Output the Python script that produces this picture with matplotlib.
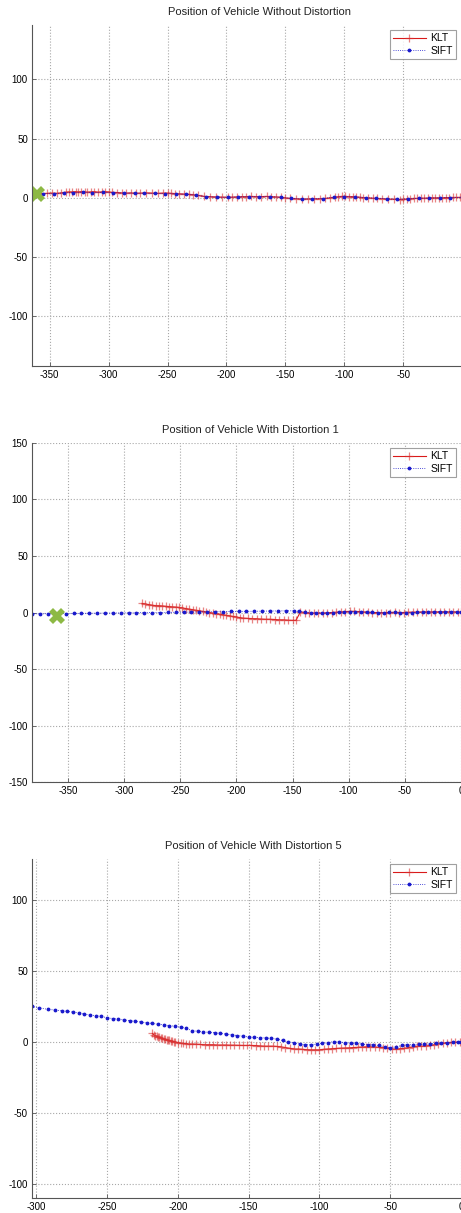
import matplotlib
matplotlib.use('Agg')
import matplotlib.pyplot as plt

plt.rcParams['font.family'] = ['Liberation Sans', 'DejaVu Sans']
plt.rcParams['axes.unicode_minus'] = False

# --- panel 1: without distortion ---
klt1_x = [-358, -352, -348, -344, -340, -336, -334, -331, -328, -326, -323, -320, -318, -315, -312,
          -309, -306, -303, -300, -297, -293, -289, -285, -281, -277, -273, -268, -263, -258, -254,
          -250, -247, -244, -240, -236, -232, -228, -224, -219, -214, -209, -204, -199, -195, -191,
          -187, -183, -179, -175, -171, -166, -162, -158, -154, -150, -146, -141, -136, -131, -126,
          -121, -116, -112, -108, -105, -102, -99, -96, -93, -90, -87, -84, -80, -76, -72,
          -68, -63, -58, -53, -50, -47, -44, -41, -38, -35, -32, -29, -26, -23, -20,
          -17, -14, -11, -8, -5, -2, 0]
klt1_y = [3.5, 3.8, 4.0, 3.8, 4.2, 4.8, 5.0, 5.0, 5.2, 5.0, 5.2, 5.0, 4.8, 5.0, 5.2,
          4.8, 5.0, 5.2, 5.0, 4.6, 4.5, 4.2, 4.0, 4.2, 3.8, 4.0, 4.2, 4.0, 3.8, 4.0,
          4.0, 3.8, 3.6, 3.4, 3.2, 3.0, 2.6, 2.0, 1.2, 1.0, 0.8, 0.6, 0.5, 0.6, 0.8,
          1.0, 1.0, 1.2, 1.0, 1.0, 1.2, 1.0, 0.8, 0.5, 0.0, -0.5, -0.8, -1.0, -1.0, -0.8,
          -0.8, -0.5, 0.0, 0.5, 1.0, 1.2, 1.2, 1.0, 1.0, 0.8, 0.5, 0.2, 0.0, -0.3, -0.5,
          -0.8, -1.0, -1.2, -1.5, -1.2, -1.0, -0.8, -0.5, -0.5, -0.3, -0.3, -0.2, 0.0, 0.0, 0.0,
          0.0, 0.2, 0.2, 0.3, 0.3, 0.3, 0.3]
sift1_x = [-356, -346, -338, -330, -322, -314, -305, -296, -287, -278, -270, -261, -252, -243,
           -234, -226, -217, -208, -199, -190, -181, -172, -163, -154, -145, -136, -127, -118,
           -109, -100, -91, -82, -73, -64, -55, -46, -37, -28, -19, -10, 0]
sift1_y = [3.5, 3.5, 4.2, 4.5, 4.8, 4.5, 4.6, 4.3, 4.0, 4.0, 3.8, 3.8, 3.6, 3.4,
           3.0, 2.3, 1.0, 0.6, 0.5, 0.8, 1.0, 1.0, 1.0, 0.5, -0.5, -1.0, -0.9, -0.6,
           0.6, 1.0, 0.8, 0.2, -0.4, -0.8, -1.3, -0.9, -0.4, -0.2, 0.0, 0.2, 0.3]
start1 = (-361, 3)

# --- panel 2: distortion 1 ---
klt2_x = [-284, -281, -278, -275, -272, -269, -266, -263, -260, -257, -254, -251, -248, -245, -242,
          -239, -236, -233, -230, -227, -224, -221, -218, -215, -212, -209, -206, -203, -200, -197,
          -194, -190, -186, -182, -178, -174, -170, -166, -162, -158, -154, -150, -147, -143, -139,
          -135, -131, -127, -123, -119, -115, -111, -107, -103, -99, -95, -91, -87, -83, -79,
          -75, -71, -67, -63, -59, -55, -51, -47, -43, -39, -35, -31, -27, -23, -19,
          -15, -11, -7, -3, 0]
klt2_y = [8.0, 7.5, 7.0, 6.5, 6.0, 6.0, 5.8, 5.5, 5.2, 5.0, 4.8, 4.5, 4.0, 3.5, 3.0,
          2.5, 2.0, 1.5, 1.0, 0.5, 0.0, -0.5, -1.0, -1.5, -2.0, -2.5, -3.0, -3.5, -4.0, -4.5,
          -5.0, -5.2, -5.5, -5.5, -5.8, -6.0, -6.0, -6.2, -6.5, -6.5, -6.8, -7.0, -7.0, 0.5, 0.0,
          -0.5, -0.5, -0.5, -0.5, -0.3, 0.0, 0.3, 0.5, 0.8, 1.0, 1.0, 0.8, 0.5, 0.3, 0.0,
          0.0, -0.2, 0.0, 0.0, 0.2, 0.0, 0.0, 0.2, 0.3, 0.3, 0.5, 0.5, 0.5, 0.5, 0.6,
          0.6, 0.5, 0.5, 0.5, 0.5]
sift2_x = [-382, -375, -368, -360, -352, -345, -338, -331, -324, -317, -310, -303, -296, -289, -282,
           -275, -268, -261, -254, -247, -240, -233, -226, -219, -212, -205, -198, -191, -184, -177,
           -170, -163, -156, -149, -144, -139, -134, -129, -124, -119, -114, -109, -104, -99, -94,
           -89, -84, -79, -74, -69, -64, -59, -54, -49, -44, -39, -34, -29, -24, -19,
           -14, -9, -4, 0]
sift2_y = [-1.0, -1.2, -1.0, -1.0, -0.9, -0.8, -0.8, -0.7, -0.6, -0.5, -0.5, -0.4, -0.3, -0.2, -0.1,
           0.0, 0.0, 0.1, 0.2, 0.3, 0.4, 0.5, 0.6, 0.7, 0.8, 0.9, 1.0, 1.0, 1.1, 1.2,
           1.3, 1.4, 1.5, 1.5, 1.0, 0.3, 0.0, -0.2, -0.3, -0.2, 0.0, 0.2, 0.5, 0.8, 0.6,
           0.5, 0.3, 0.2, 0.0, 0.0, 0.1, 0.2, 0.0, -0.1, 0.0, 0.2, 0.3, 0.5, 0.5, 0.6,
           0.6, 0.7, 0.6, 0.5]
start2 = (-360, -3)

# --- panel 3: distortion 5 ---
klt3_x = [-218, -217, -216, -215, -214, -213, -212, -211, -210, -209, -208, -207, -206, -205, -204,
          -203, -202, -200, -198, -196, -194, -192, -190, -187, -184, -181, -178, -175, -172, -169,
          -166, -163, -160, -157, -154, -151, -148, -145, -142, -139, -136, -133, -130, -127, -124,
          -121, -118, -115, -112, -109, -106, -103, -100, -97, -94, -91, -88, -85, -82, -79,
          -76, -73, -70, -67, -64, -61, -58, -55, -52, -49, -46, -43, -40, -37, -34,
          -31, -28, -25, -22, -19, -16, -13, -10, -7, -4, -1, 0]
klt3_y = [6.0, 5.0, 4.5, 4.0, 3.5, 3.2, 2.8, 2.5, 2.0, 1.8, 1.5, 1.2, 1.0, 0.6, 0.4,
          0.2, 0.0, -0.5, -0.8, -1.0, -1.2, -1.5, -1.5, -1.6, -1.8, -2.0, -2.0, -2.0, -2.2, -2.2,
          -2.2, -2.3, -2.3, -2.4, -2.5, -2.5, -2.5, -2.6, -2.8, -3.0, -3.0, -3.0, -3.2, -3.5, -4.0,
          -4.5, -5.0, -5.0, -5.2, -5.5, -5.6, -5.6, -5.6, -5.2, -5.0, -4.8, -4.6, -4.4, -4.3, -4.2,
          -4.0, -3.8, -3.6, -3.5, -3.5, -3.6, -3.8, -4.0, -4.5, -5.0, -5.0, -4.8, -4.5, -4.0, -3.5,
          -3.0, -3.0, -3.0, -2.5, -2.0, -1.5, -1.0, -0.5, -0.3, -0.2, 0.0, 0.0]
sift3_x = [-303, -298, -292, -287, -282, -278, -274, -270, -266, -262, -258, -254, -250, -246, -242,
           -238, -234, -230, -226, -222, -218, -214, -210, -206, -202, -198, -194, -190, -186, -182,
           -178, -174, -170, -166, -162, -158, -154, -150, -146, -142, -138, -134, -130, -126, -122,
           -118, -114, -110, -106, -102, -98, -94, -90, -86, -82, -78, -74, -70, -66, -62,
           -58, -54, -50, -46, -42, -38, -34, -30, -26, -22, -18, -14, -10, -6, -2, 0]
sift3_y = [25.0, 24.0, 23.0, 22.5, 22.0, 21.5, 21.0, 20.5, 19.5, 19.0, 18.5, 18.0, 17.0, 16.5, 16.0,
           15.5, 15.0, 14.5, 14.0, 13.5, 13.0, 12.5, 12.0, 11.5, 11.0, 10.5, 9.5, 8.0, 7.5, 7.0,
           6.8, 6.5, 6.0, 5.5, 5.0, 4.5, 4.0, 3.5, 3.2, 3.0, 2.8, 2.5, 2.0, 1.0, 0.0,
           -0.5, -1.5, -2.0, -2.0, -1.5, -1.0, -0.5, 0.2, 0.0, -0.5, -0.8, -1.0, -1.5, -2.0, -2.0,
           -2.5, -3.5, -4.0, -3.5, -2.5, -2.0, -2.0, -1.8, -1.5, -1.5, -1.0, -0.8, -0.6, -0.4, -0.2, 0.0]

xtick_vals = [-350, -300, -250, -200, -150, -100, -50, 0]

panels = [
    dict(title='Position of Vehicle Without Distortion', klt=(klt1_x, klt1_y), sift=(sift1_x, sift1_y),
         start=start1, xlim=(-365, -1), ylim=(-142, 146), yticks=[-100, -50, 0, 50, 100],
         rect=[0.0694, 0.6983, 0.9306, 0.2811], tx=0.531),
    dict(title='Position of Vehicle With Distortion 1', klt=(klt2_x, klt2_y), sift=(sift2_x, sift2_y),
         start=start2, xlim=(-382, 0), ylim=(-150, 150), yticks=[-150, -100, -50, 0, 50, 100, 150],
         rect=[0.0694, 0.3553, 0.9306, 0.2795], tx=0.508),
    dict(title='Position of Vehicle With Distortion 5', klt=(klt3_x, klt3_y), sift=(sift3_x, sift3_y),
         start=None, xlim=(-303, 0), ylim=(-110, 129), yticks=[-100, -50, 0, 50, 100],
         rect=[0.0694, 0.0124, 0.9306, 0.2795], tx=0.515),
]

fig = plt.figure(figsize=(4.61, 12.13), dpi=100)

for p in panels:
    ax = fig.add_axes(p['rect'])
    ax.plot(p['klt'][0], p['klt'][1], color=(0.85, 0.1, 0.1), linewidth=0.8, marker='+',
            markersize=6, markeredgewidth=0.9, markeredgecolor=(0.85, 0.2, 0.2, 0.6), label='KLT')
    ax.plot(p['sift'][0], p['sift'][1], color=(0.1, 0.1, 0.8), linewidth=0.6, linestyle=':',
            marker='.', markersize=3.5, label='SIFT')
    if p['start'] is not None:
        ax.plot([p['start'][0]], [p['start'][1]], marker='X', markersize=11, color='#8db944',
                linestyle='none', markeredgewidth=0)
    lo, hi = p['xlim']
    ax.set_xticks([t for t in xtick_vals if lo <= t <= hi])
    ax.set_yticks(p['yticks'])
    ax.set_xlim(p['xlim'])
    ax.set_ylim(p['ylim'])
    ax.grid(True, color='#a8a8a8', linestyle=':', linewidth=0.8)
    ax.set_axisbelow(True)
    for s in ['top', 'right']:
        ax.spines[s].set_visible(False)
    for s in ['left', 'bottom']:
        ax.spines[s].set_color('#555555')
        ax.spines[s].set_linewidth(0.8)
    ax.tick_params(direction='in', length=3, width=0.6, color='#555555', labelsize=7, pad=3)
    ax.set_title(p['title'], fontsize=8, color='#222222', x=p['tx'], pad=7)
    leg = ax.legend(loc='upper right', fontsize=7.5, fancybox=False, handlelength=3.2,
                    borderaxespad=0.5, borderpad=0.3, labelspacing=0.25, handletextpad=0.4)
    leg.get_frame().set_edgecolor('#888888')
    leg.get_frame().set_linewidth(0.8)

plt.savefig('out.png', dpi=100)
plt.close()
